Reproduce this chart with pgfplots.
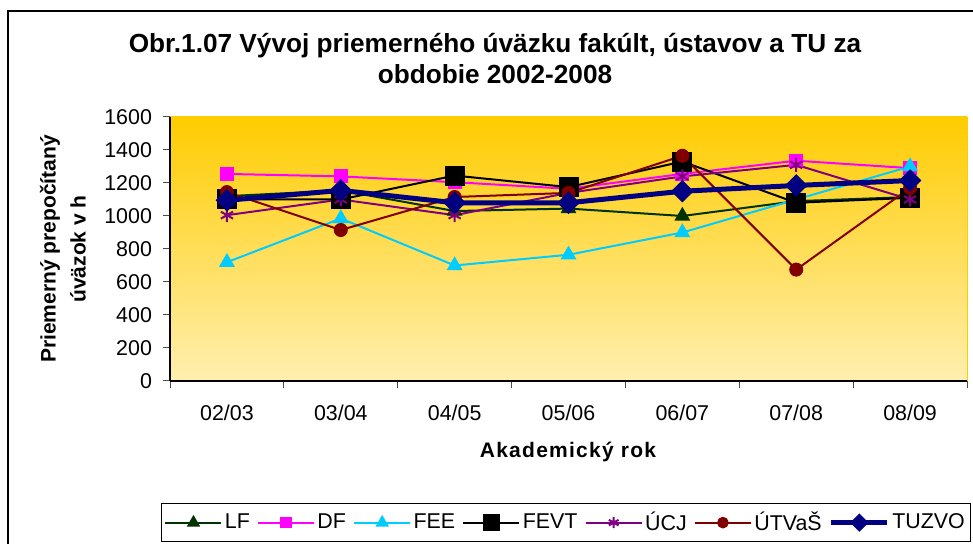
\documentclass[border=0pt]{standalone}
\usepackage{fontspec}
\setmainfont{Liberation Sans}
\usepackage{pgfplots}
\pgfplotsset{compat=1.18}

\definecolor{cLF}{HTML}{003300}
\definecolor{cDF}{HTML}{FF00FF}
\definecolor{cFEE}{HTML}{00CCFF}
\definecolor{cFEVT}{HTML}{000000}
\definecolor{cUCJ}{HTML}{800080}
\definecolor{cUTV}{HTML}{800000}
\definecolor{cTUZ}{HTML}{000080}
\definecolor{goldTop}{HTML}{FFCC00}
\definecolor{goldBot}{HTML}{FFEFB0}

\begin{document}
\begin{tikzpicture}
% 1 px of the reference = 0.5pt
\useasboundingbox (0,0) rectangle (486.5pt,272pt);
\draw[line width=0.6pt] (4pt,-5pt) -- (4pt,266.5pt) -- (492pt,266.5pt);

\begin{axis}[
    at={(85pt,81.5pt)}, anchor=south west,
    scale only axis,
    width=398.5pt, height=132pt,
    xmin=-0.5, xmax=6.5,
    ymin=0, ymax=1600,
    axis x line*=bottom, axis y line*=left,
    axis line style={line width=0.6pt},
    axis background/.style={top color=goldTop, bottom color=goldBot, draw=goldTop},
    tick align=outside,
    major tick length=3.5pt,
    tick style={black!70, line width=0.5pt},
    xtick={-0.5,0.5,1.5,2.5,3.5,4.5,5.5,6.5},
    xticklabels={},
    extra x ticks={0,1,2,3,4,5,6},
    extra x tick labels={02/03,03/04,04/05,05/06,06/07,07/08,08/09},
    extra x tick style={major tick length=0pt, tick label style={yshift=-8.5pt}},
    ytick={0,200,...,1600},
    yticklabel style={xshift=-2pt},
    ticklabel style={font=\fontsize{10.7}{12}\selectfont},
    /pgf/number format/assume math mode=true,
    /pgf/number format/1000 sep={},
    legend columns=7,
    legend style={
        at={(-0.0113,-0.6098)}, anchor=south west,
        draw=black, line width=0.5pt,
        font=\fontsize{10.7}{12}\selectfont,
        inner xsep=1.5pt, inner ysep=2.5pt,
        nodes={inner xsep=1.2pt, inner ysep=1.5pt},
        /tikz/every even column/.append style={column sep=2.4pt},
    },
    legend image code/.code={
        \draw[mark repeat=2,mark phase=2, every mark/.append style={scale=0.8}]
          plot coordinates {(0pt,0pt) (14pt,0pt) (28pt,0pt)};
    },
]
\addplot[cLF, line width=1pt, mark=triangle*, mark size=3.6pt, mark options={solid, fill=cLF}]
  coordinates {(0,1120) (1,1155) (2,1030) (3,1045) (4,1000) (5,1090) (6,1115)};
\addlegendentry{LF}
\addplot[cDF, line width=1pt, mark=square*, mark size=3pt, mark options={solid, fill=cDF}]
  coordinates {(0,1255) (1,1240) (2,1205) (3,1165) (4,1255) (5,1335) (6,1290)};
\addlegendentry{DF}
\addplot[cFEE, line width=1pt, mark=triangle*, mark size=3.6pt, mark options={solid, fill=cFEE}]
  coordinates {(0,720) (1,985) (2,700) (3,765) (4,900) (5,1100) (6,1300)};
\addlegendentry{FEE}
\addplot[cFEVT, line width=1pt, mark=square*, mark size=4.5pt, mark options={solid, fill=cFEVT}]
  coordinates {(0,1100) (1,1100) (2,1245) (3,1175) (4,1330) (5,1080) (6,1110)};
\addlegendentry{FEVT}
\addplot[cUCJ, line width=1pt, mark=asterisk, mark size=3.5pt, mark options={solid, line width=1pt}]
  coordinates {(0,1005) (1,1100) (2,1005) (3,1140) (4,1240) (5,1310) (6,1100)};
\addlegendentry{ÚCJ}
\addplot[cUTV, line width=1pt, mark=*, mark size=3pt, mark options={solid, fill=cUTV}]
  coordinates {(0,1145) (1,915) (2,1115) (3,1140) (4,1365) (5,675) (6,1170)};
\addlegendentry{ÚTVaŠ}
\addplot[cTUZ, line width=2.5pt, mark=diamond*, mark size=5.3pt, mark options={solid, fill=cTUZ, line width=0.5pt, xscale=1.33}]
  coordinates {(0,1095) (1,1155) (2,1080) (3,1080) (4,1150) (5,1185) (6,1215)};
\addlegendentry{TUZVO}
\end{axis}

\node[align=center, font=\fontsize{13.1}{15.5}\selectfont\bfseries] at (247.5pt,242.5pt)
  {Obr.1.07 Vývoj priemerného úväzku fakúlt, ústavov a TU za\\obdobie 2002-2008};
\node[rotate=90, align=center, font=\fontsize{10.5}{15}\selectfont\bfseries] at (31.5pt,147.5pt)
  {Priemerný prepočítaný\\úväzok v h};
\node[font=\fontsize{10.5}{12}\selectfont\bfseries\addfontfeatures{LetterSpace=6}] at (284pt,46pt)
  {Akademický rok};
\end{tikzpicture}
\end{document}
